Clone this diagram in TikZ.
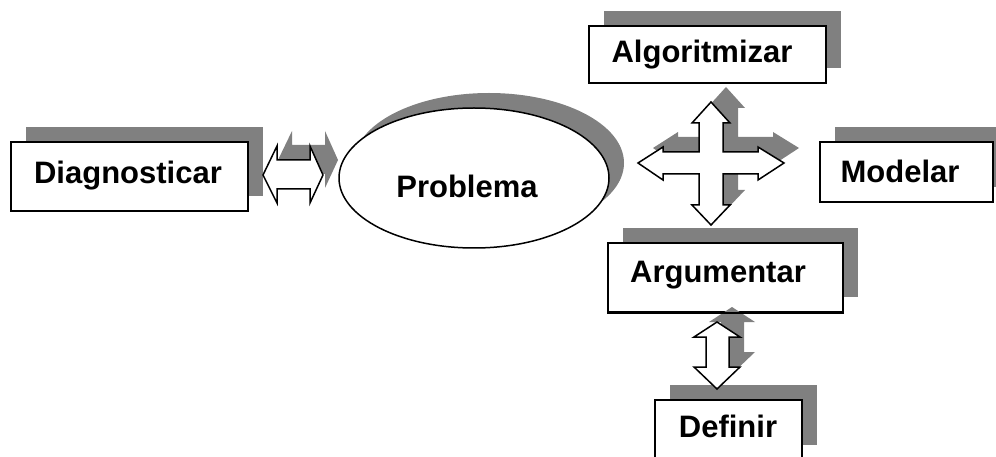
\documentclass[tikz,border=0pt]{standalone}
\usepackage{fontspec}
\setmainfont{Liberation Sans}
\usetikzlibrary{shadows,shapes.geometric}
\definecolor{shade}{HTML}{808080}
\tikzset{
  shd/.style={general shadow={shadow xshift=15pt, shadow yshift=15pt, fill=shade}},
  box/.style={draw, line width=2pt, fill=white, shd, inner sep=0pt},
  oval/.style={ellipse, draw, line width=1.5pt, fill=white, shd, inner sep=0pt},
  lbl/.style={font=\bfseries\fontsize{31}{31}\selectfont, anchor=base, inner sep=0pt},
  blk/.style={draw, line width=1.5pt, fill=white, line join=miter},
  blkshade/.style={fill=shade},
  % horizontal two-headed block arrow
  harrow/.pic={\path[pic actions] (263,175) -- (277,146) -- (277,160) -- (310,160) -- (310,146)
      -- (323,175) -- (310,203) -- (310,189) -- (277,189) -- (277,203) -- cycle;},
  % vertical two-headed block arrow
  varrow/.pic={\path[pic actions] (717,322) -- (740,337) -- (729,337) -- (729,367) -- (740,367)
      -- (717,389) -- (694,367) -- (706,367) -- (706,337) -- (694,337) -- cycle;},
  % four-headed cross arrow
  xarrow/.pic={\path[pic actions] (711,102) -- (730,123) -- (723,123) -- (723,152) -- (758,152)
      -- (758,147) -- (784,163) -- (758,180) -- (758,174) -- (723,174) -- (723,205)
      -- (730,205) -- (711,225) -- (692,205) -- (699,205) -- (699,174) -- (663,174)
      -- (663,180) -- (638,163) -- (663,147) -- (663,152) -- (699,152) -- (699,123)
      -- (692,123) -- cycle;},
}
\begin{document}
\begin{tikzpicture}[x=1pt,y=-1pt]
\clip (0,0) rectangle (996,457);
\fill[white] (0,0) rectangle (996,457);

% boxes and the central ellipse
\node[box, minimum width=237pt, minimum height=69pt] (diag) at (129.5,176.5) {};
\node[box, minimum width=237pt, minimum height=57pt] (algo) at (707.5,54.5) {};
\node[box, minimum width=173pt, minimum height=60pt] (mod) at (906.5,172) {};
\node[box, minimum width=235pt, minimum height=69pt] (arg) at (725.5,277.5) {};
\node[box, minimum width=147pt, minimum height=60pt] (def) at (728.5,430) {};
\node[oval, minimum width=270pt, minimum height=140pt] (prob) at (474,178) {};

% labels
\node[lbl] (diag-t) at (128,184) {Diagnosticar};
\node[lbl] (algo-t) at (702,63) {Algoritmizar};
\node[lbl] (mod-t) at (900,183) {Modelar};
\node[lbl] (arg-t) at (718,283) {Argumentar};
\node[lbl] (def-t) at (728,437) {Definir};
\node[lbl] (prob-t) at (467,198) {Problema};

% block arrows with their shadows
\pic[blkshade] at (15,-15) {harrow};
\pic[blk] at (0,0) {harrow};
\pic[blkshade] at (15,-15) {xarrow};
\pic[blk] at (0,0) {xarrow};
\pic[blkshade] at (15,-15) {varrow};
\pic[blk] at (0,0) {varrow};

% the lower edge of Argumentar lies over the arrow shadow
\draw[line width=2pt] (arg.south west) -- (arg.south east);
\end{tikzpicture}
\end{document}
